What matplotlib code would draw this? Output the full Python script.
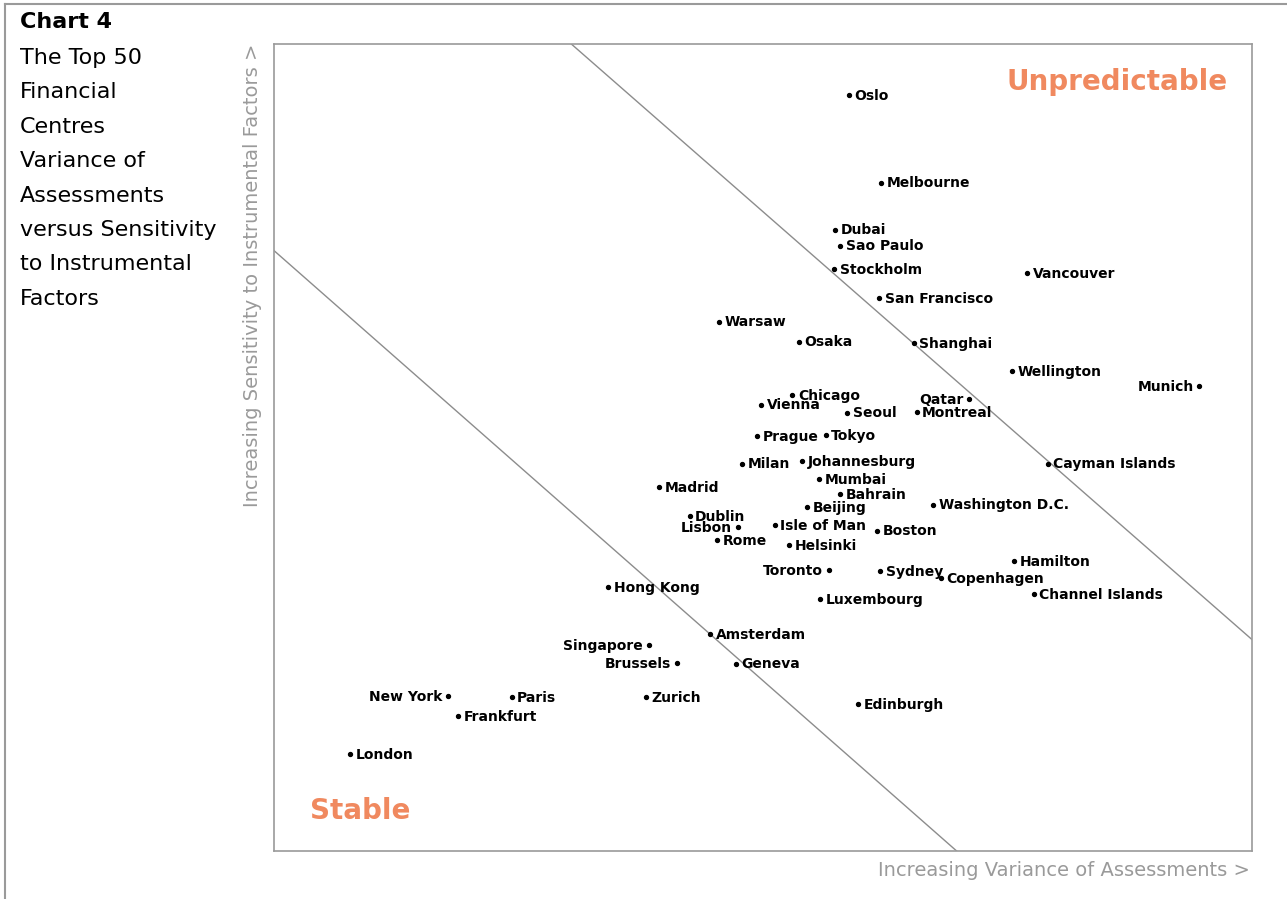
import matplotlib.pyplot as plt
from matplotlib.lines import Line2D

# centre names, position (x = variance of assessments, y = sensitivity), label side
names = ['Oslo', 'Melbourne', 'Dubai', 'Sao Paulo', 'Stockholm', 'Vancouver',
         'San Francisco', 'Warsaw', 'Osaka', 'Shanghai', 'Wellington', 'Munich',
         'Chicago', 'Qatar', 'Vienna', 'Seoul', 'Montreal', 'Prague', 'Tokyo',
         'Milan', 'Johannesburg', 'Cayman Islands', 'Mumbai', 'Madrid', 'Bahrain',
         'Washington D.C.', 'Beijing', 'Dublin', 'Isle of Man', 'Lisbon', 'Boston',
         'Rome', 'Helsinki', 'Hamilton', 'Toronto', 'Sydney', 'Copenhagen',
         'Hong Kong', 'Channel Islands', 'Luxembourg', 'Amsterdam', 'Singapore',
         'Brussels', 'Geneva', 'New York', 'Paris', 'Zurich', 'Frankfurt',
         'Edinburgh', 'London']
x_vals = [58.8, 62.1, 57.4, 57.9, 57.3, 77.0,
          61.9, 45.5, 53.7, 65.4, 75.5, 94.6,
          53.0, 71.1, 49.8, 58.6, 65.7, 49.4, 56.4,
          47.9, 54.0, 79.1, 55.7, 39.4, 57.9,
          67.4, 54.5, 42.5, 51.2, 47.4, 61.7,
          45.3, 52.7, 75.7, 56.7, 62.0, 68.2,
          34.2, 77.7, 55.8, 44.6, 38.3,
          41.2, 47.2, 17.8, 24.3, 38.0, 18.8,
          59.7, 7.8]
y_vals = [93.7, 82.8, 77.0, 75.0, 72.1, 71.6,
          68.5, 65.6, 63.1, 62.9, 59.5, 57.6,
          56.5, 56.0, 55.3, 54.3, 54.4, 51.4, 51.5,
          48.0, 48.3, 48.0, 46.1, 45.1, 44.2,
          42.9, 42.6, 41.5, 40.4, 40.1, 39.7,
          38.5, 37.9, 35.9, 34.8, 34.7, 33.8,
          32.7, 31.8, 31.2, 26.9, 25.5,
          23.3, 23.2, 19.2, 19.1, 19.1, 16.7,
          18.2, 12.0]
left_labels = ['Munich', 'Qatar', 'Lisbon', 'Toronto', 'Singapore', 'Brussels', 'New York']

# boundary lines between stable / unpredictable zones
upper_x = [30.4, 100]
upper_y = [100, 26.2]
lower_x = [0, 69.8]
lower_y = [74.4, 0]

orange = '#F0895F'
grey = '#9a9a9a'

fig = plt.figure(figsize=(12.87, 8.99), dpi=100)
ax = fig.add_axes([274/1287, 48/899, 978/1287, 807/899])
ax.set_xlim(0, 100)
ax.set_ylim(0, 100)
ax.set_xticks([])
ax.set_yticks([])
for s in ax.spines.values():
    s.set_color(grey)
    s.set_linewidth(1.2)

ax.plot(upper_x, upper_y, color='#8c8c8c', lw=1)
ax.plot(lower_x, lower_y, color='#8c8c8c', lw=1)

ax.scatter(x_vals, y_vals, s=8, color='black', zorder=3)
for name, x, y in zip(names, x_vals, y_vals):
    if name in left_labels:
        ax.annotate(name, (x, y), xytext=(-4, -0.5), textcoords='offset points',
                    ha='right', va='center', fontsize=10, fontweight='bold')
    else:
        ax.annotate(name, (x, y), xytext=(4, -0.5), textcoords='offset points',
                    ha='left', va='center', fontsize=10, fontweight='bold')

ax.text(97.5, 95.3, 'Unpredictable', color=orange, fontsize=20, fontweight='bold',
        ha='right', va='center')
ax.text(3.7, 4.9, 'Stable', color=orange, fontsize=20, fontweight='bold',
        ha='left', va='center')

fig.text(1250/1287, 1 - 871/899, 'Increasing Variance of Assessments >', color=grey,
         fontsize=14, ha='right', va='center')
fig.text(253/1287, 1 - 44/899, 'Increasing Sensitivity to Instrumental Factors >',
         color=grey, fontsize=14, rotation=90, ha='center', va='top')

# left-hand title block
fig.text(20/1287, 1 - 22/899, 'Chart 4', fontsize=16, fontweight='bold', va='center')
desc = ['The Top 50', 'Financial', 'Centres', 'Variance of', 'Assessments',
        'versus Sensitivity', 'to Instrumental', 'Factors']
for i, line in enumerate(desc):
    fig.text(20/1287, 1 - (58 + i*34.4)/899, line, fontsize=16, va='center')

# page frame (top and left edges)
fig.add_artist(Line2D([5/1287, 1], [1 - 4/899, 1 - 4/899], color=grey, lw=1.5))
fig.add_artist(Line2D([5/1287, 5/1287], [0, 1 - 4/899], color=grey, lw=1.5))

fig.savefig('out.png', dpi=100)
